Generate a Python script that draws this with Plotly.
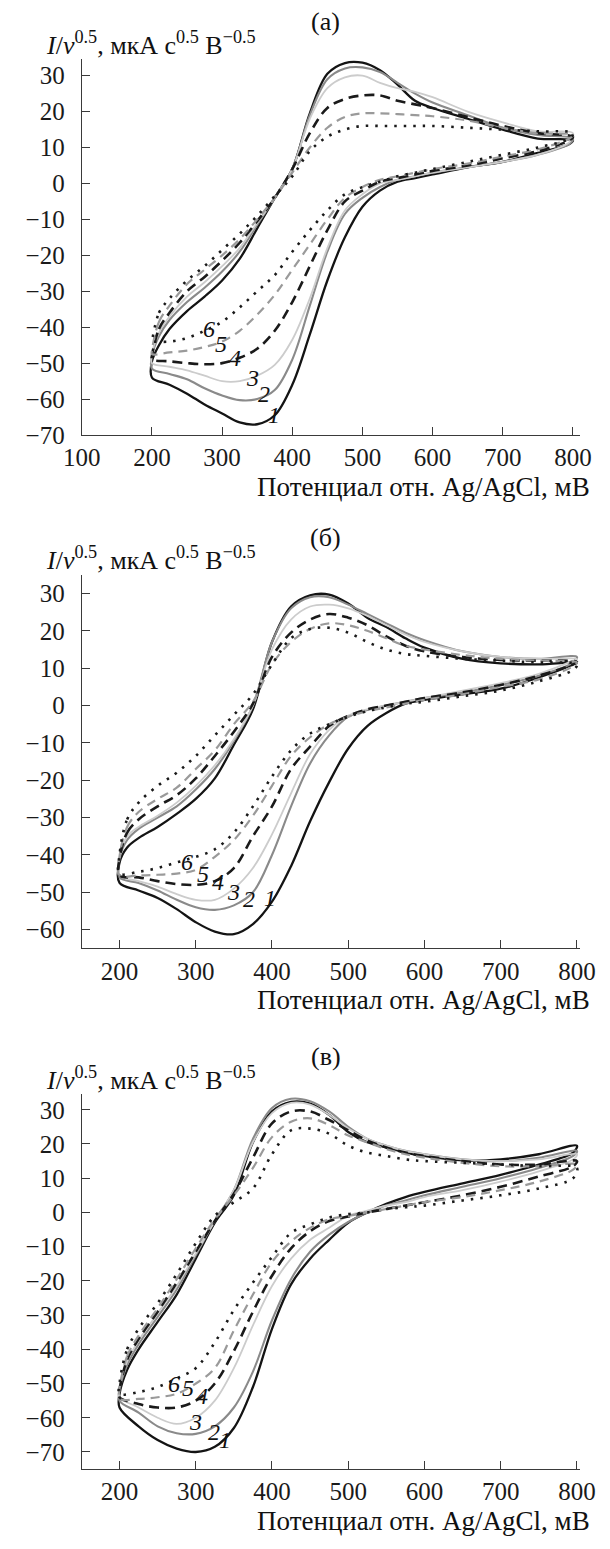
import plotly.graph_objects as go

W, H = 610, 1549

# ---------------- data ----------------
E_FWD = [200, 210, 225, 250, 275, 300, 325, 350, 375, 400, 425, 450, 475, 500, 525, 550, 575, 600, 650, 700, 750, 800]
E_REV = [795, 750, 700, 650, 600, 575, 550, 525, 500, 475, 450, 425, 400, 375, 350, 325, 300, 275, 250, 225, 200]

CURVE_IDS = ["1", "2", "3", "4", "5", "6"]

# panel (a)
A_FWD = {
    "1": [-49.5, -45, -40.5, -35.5, -31.5, -27, -21, -12.5, -4, 4, 19.5, 30.5, 33.5, 33.6, 31.5, 27.5, 23, 21, 18, 15, 12.5, 12],
    "2": [-48, -42.5, -38, -33, -29, -24.5, -19, -11.5, -4, 4, 19, 29, 32, 32.3, 31, 28, 25, 22.5, 19, 15.5, 13.5, 12.5],
    "3": [-47.5, -41.5, -37, -31.5, -27.5, -23, -18, -11, -4, 4, 18, 26.5, 29.5, 30, 28, 26.5, 25.5, 24, 20, 17, 14.5, 14],
    "4": [-48, -40.5, -36, -30, -26, -21.5, -16.5, -10.5, -4, 4, 14, 21, 23.5, 24.5, 24.5, 23, 22, 21, 18.5, 16, 14, 13],
    "5": [-46.5, -38.5, -34, -28, -24, -20, -15.5, -10, -4, 3, 10, 15.5, 18.5, 19.5, 19.5, 19.3, 19, 18.7, 17.5, 15.5, 14, 13.5],
    "6": [-44, -36, -32, -27, -23, -18.5, -14, -9, -3.5, 2, 9, 13, 15, 16, 16, 16, 16, 16, 15.5, 15, 14.5, 14],
}
A_REV = {
    "1": [11, 8.5, 6, 4.5, 2.5, 1.5, 0.5, -2, -6.5, -15, -27, -42, -56, -64.5, -67, -66.5, -64, -61.5, -58.5, -56, -54],
    "2": [11, 8, 6, 4.5, 3, 2, 1, -1, -4, -8.5, -19, -34, -49, -57.5, -60, -60.3, -59, -57, -54.5, -53, -51.5],
    "3": [11.5, 8, 6, 4.5, 3, 2, 1, 0, -3, -7.5, -18, -32, -43.5, -50.5, -53.5, -55, -55, -53.5, -52, -51, -50],
    "4": [12, 9, 7, 5, 3.5, 2.5, 1.5, 0.5, -2, -5, -13, -23, -33, -41, -46, -48.5, -50, -50.3, -50, -49.5, -49],
    "5": [12.5, 9.5, 7.5, 5.5, 4, 3, 2, 1, -1, -4, -10, -17, -24, -31, -36.5, -41, -44, -45.5, -46.5, -47, -47.5],
    "6": [12.5, 10, 8, 6, 4, 3, 2, 0.5, -1, -3, -7.5, -13, -19, -25.5, -30, -34.5, -38.5, -41, -43, -44, -44],
}

# panel (б)
B_FWD = {
    "1": [-42, -38, -35.5, -32.5, -29, -25, -19.5, -10.5, -1, 17, 26.5, 29.5, 29.7, 27.3, 23.5, 21, 18, 15.5, 12.5, 11.3, 11, 11.5],
    "2": [-41, -36, -33, -30, -27, -22.5, -17, -9.5, 0, 17, 26, 29, 29, 27, 24.5, 22, 19.5, 17.5, 14.5, 13, 12.5, 13],
    "3": [-40.5, -35, -32.5, -29.5, -26, -21.5, -16, -9, 0, 15, 23, 26.5, 27, 26, 24, 21.5, 19, 17, 14.5, 13, 12.5, 12.5],
    "4": [-41, -34, -30.5, -27, -24, -19.5, -13.5, -7, 0.5, 13, 19.5, 23, 24.5, 23.5, 21.5, 18.5, 16, 14.5, 13, 12.2, 12, 11.7],
    "5": [-40.5, -32.5, -28.5, -25, -22, -17, -12, -5, 1, 11, 17, 20.5, 22, 21.5, 20, 18, 16, 15, 13.5, 12.5, 12, 11.5],
    "6": [-40, -30.5, -26, -21.5, -18, -13.5, -8, -2.5, 3, 11, 18, 20.5, 20.8, 19.5, 17, 15, 13.8, 13.3, 12.5, 12, 11.5, 11],
}
B_REV = {
    "1": [11, 7.5, 4.5, 3, 1.5, 0.5, -2, -5.5, -11.5, -20.5, -31, -43, -52.5, -58.5, -61.2, -60.5, -58, -54.5, -51.5, -49.5, -47.5],
    "2": [11.5, 8, 5.5, 3.5, 2, 1, 0, -1.2, -3, -8, -15.5, -27, -40, -50, -53.5, -54.7, -54, -52, -49.5, -47.5, -46],
    "3": [12, 8.5, 6, 4, 2, 1, 0, -1, -2.7, -6.5, -13, -23.5, -34.5, -43.5, -49, -52, -52, -50.5, -48.5, -47, -45.5],
    "4": [11, 8, 5.5, 3.5, 2, 1, 0, -1, -2.8, -5.5, -11, -17, -27, -35, -43.5, -47, -48, -47.8, -47, -46, -45.5],
    "5": [10.5, 7, 5, 3, 1.5, 0.5, -0.5, -1.5, -3, -5, -8.5, -13.5, -21.5, -29.5, -36, -40.5, -44, -45, -45.3, -45.5, -45.5],
    "6": [9.5, 6.5, 4, 2.5, 1, 0.5, -0.5, -1.5, -3, -5, -7.5, -12, -19, -27, -34, -38.5, -40.5, -42, -43.5, -44.5, -45],
}

# panel (в)
C_FWD = {
    "1": [-53, -46, -40, -32, -24, -13.5, -3, 5, 20.5, 29.5, 32.3, 31.8, 28.5, 23.5, 20.5, 19, 17.5, 16.5, 15.2, 15.5, 17, 19.5],
    "2": [-52, -44.5, -38.5, -30.5, -22.5, -12.5, -2.5, 6.5, 21.5, 30.5, 33.2, 32.5, 29.5, 25, 21.5, 19.5, 18, 17, 15.5, 15, 16, 18],
    "3": [-51, -43.5, -37.5, -29.5, -21.5, -12, -2.5, 6.5, 20.5, 29, 32, 31.5, 28.5, 24.5, 21.5, 19.5, 18, 17, 15.5, 15, 15.5, 17],
    "4": [-52, -43, -37, -29, -20.5, -11.5, -2.5, 5.5, 16, 26, 29.5, 29.5, 27, 24, 21, 19, 17.5, 16.5, 15, 14, 14, 15],
    "5": [-51.5, -42, -36, -28, -19.5, -10.5, -2, 5, 13, 22, 26.5, 27.5, 25.5, 22.5, 20.5, 18.5, 17, 16, 14.5, 13.5, 13.5, 14],
    "6": [-50, -40, -34, -26.5, -18, -9, -1, 3, 7, 17, 24, 24.5, 23, 19.5, 17.5, 16.5, 15.5, 15, 14.5, 14, 13.5, 13],
}
C_REV = {
    "1": [17.5, 14, 11, 8.5, 6, 4.5, 2.5, 0, -3, -8, -13.5, -21, -34, -51, -63, -68.5, -70, -69, -66.5, -62.5, -57],
    "2": [16.5, 13, 10, 7.5, 5, 3.5, 2, 0, -2.8, -6.5, -11.5, -19.5, -31.5, -46.5, -57, -62.5, -64.7, -64.5, -62.5, -58.5, -55],
    "3": [15.5, 12, 9, 6.5, 4.5, 3, 2, 0.5, -1, -4.5, -8, -13.5, -21.5, -33, -45.5, -55, -60, -61.8, -60, -57, -54],
    "4": [13.5, 10.5, 7.5, 5, 3, 2, 1, 0, -1.2, -2.5, -5.5, -10.5, -18.5, -29, -40.5, -50, -55, -57, -57, -56, -54],
    "5": [12.5, 9, 6.5, 4.5, 3, 2, 1, 0, -1, -2, -4.5, -8.5, -14.5, -24, -34.5, -45.5, -50, -53, -54, -54.5, -54.5],
    "6": [10, 7, 5, 3.5, 2, 1.5, 1, 0, -0.5, -1.5, -3.5, -6, -13, -20.5, -28.5, -38, -45.5, -48.5, -51, -52.5, -53],
}

# curve-number label anchor points (data units) per panel
A_LABELS = {"1": (374, -64.5), "2": (360, -58.5), "3": (343, -54), "4": (318, -48.5), "5": (299, -44.7), "6": (281, -40.5)}
B_LABELS = {"1": (397, -51.5), "2": (370, -51.7), "3": (350, -50), "4": (329, -47.3), "5": (309, -45), "6": (288, -42)}
C_LABELS = {"1": (338, -66.6), "2": (324, -64.2), "3": (300, -61.3), "4": (308, -53.6), "5": (290, -51.2), "6": (271, -50.2)}

PANEL_TITLES = ["(a)", "(б)", "(в)"]
X_TITLE = "Потенциал отн. Ag/AgCl, мВ"
Y_TITLE = "<i>I</i>/<i>v</i><sup>0.5</sup>, мкА с<sup>0.5</sup> В<sup>−0.5</sup>"

# ---------------- styles ----------------
STYLE = {
    "1": dict(color="#141414", width=2.3, dash="solid"),
    "2": dict(color="#8a8a8a", width=2.1, dash="solid"),
    "3": dict(color="#cccccc", width=1.8, dash="solid"),
    "4": dict(color="#1a1a1a", width=2.6, dash="10px,6px"),
    "5": dict(color="#9a9a9a", width=2.2, dash="9px,6px"),
    "6": dict(color="#1a1a1a", width=2.6, dash="2.5px,7px"),
}

FONT = "Liberation Serif"
AX_COLOR = "#3a3a3a"
TICK_SIZE = 25
TEXT_SIZE = 26

# panel geometry (pixels)
PLOT_X = (66.5, 594.5)
PANELS = [
    dict(fwd=A_FWD, rev=A_REV, labels=A_LABELS, xr=[100, 810.6], yr=[-70, 34.5], top=60, bot=439, xt=list(range(100, 801, 100)), yt=list(range(-70, 31, 10))),
    dict(fwd=B_FWD, rev=B_REV, labels=B_LABELS, xr=[150.5, 804.5], yr=[-65, 35], top=580, bot=957, xt=list(range(200, 801, 100)), yt=list(range(-60, 31, 10))),
    dict(fwd=C_FWD, rev=C_REV, labels=C_LABELS, xr=[150.5, 804.5], yr=[-75, 34.6], top=1104, bot=1482.5, xt=list(range(200, 801, 100)), yt=list(range(-70, 31, 10))),
]


def px(x):
    return x / W


def py(y):
    return 1 - y / H


fig = go.Figure()
annotations = []

for i, p in enumerate(PANELS):
    sfx = "" if i == 0 else str(i + 1)
    xref, yref = "x" + sfx, "y" + sfx
    for cid in CURVE_IDS:
        xs = E_FWD + E_REV + [E_FWD[0]]
        ys = p["fwd"][cid] + p["rev"][cid] + [p["fwd"][cid][0]]
        st = STYLE[cid]
        fig.add_trace(go.Scatter(
            x=xs, y=ys, mode="lines", xaxis=xref, yaxis=yref, showlegend=False,
            line=dict(color=st["color"], width=st["width"], dash=st["dash"], shape="spline", smoothing=1.0),
            hoverinfo="skip",
        ))
    for cid in CURVE_IDS:
        lx, ly = p["labels"][cid]
        annotations.append(dict(x=lx, y=ly, xref=xref, yref=yref, text=f"<i>{cid}</i>", showarrow=False,
                                font=dict(family=FONT, size=24, color="#111")))
    axis_common = dict(showline=True, linecolor=AX_COLOR, linewidth=1.3, ticks="inside", ticklen=8,
                       tickwidth=1.3, tickcolor=AX_COLOR, showgrid=False, zeroline=False,
                       tickfont=dict(family=FONT, size=TICK_SIZE, color="#1a1a1a"))
    fig.layout["xaxis" + sfx] = dict(axis_common, domain=[px(PLOT_X[0]), px(PLOT_X[1])], range=p["xr"],
                                     tickvals=p["xt"], anchor=yref, ticklabelstandoff=0)
    fig.layout["yaxis" + sfx] = dict(axis_common, domain=[py(p["bot"]), py(p["top"])], range=p["yr"],
                                     tickvals=p["yt"], anchor=xref, ticklabelstandoff=11)
    # titles
    annotations.append(dict(x=px(325), y=py(p["top"] - 38), xref="paper", yref="paper", text=PANEL_TITLES[i],
                            showarrow=False, xanchor="center", yanchor="middle",
                            font=dict(family=FONT, size=TEXT_SIZE, color="#111")))
    annotations.append(dict(x=px(27), y=py(p["top"] - 16), xref="paper", yref="paper", text=Y_TITLE,
                            showarrow=False, xanchor="left", yanchor="middle",
                            font=dict(family=FONT, size=TEXT_SIZE, color="#111")))
    annotations.append(dict(x=px(607), y=py(p["bot"] + 52), xref="paper", yref="paper", text=X_TITLE,
                            showarrow=False, xanchor="right", yanchor="middle",
                            font=dict(family=FONT, size=27, color="#111")))

fig.update_layout(width=W, height=H, margin=dict(l=0, r=0, t=0, b=0), paper_bgcolor="white",
                  plot_bgcolor="white", annotations=annotations)

fig.write_html("out.html")
